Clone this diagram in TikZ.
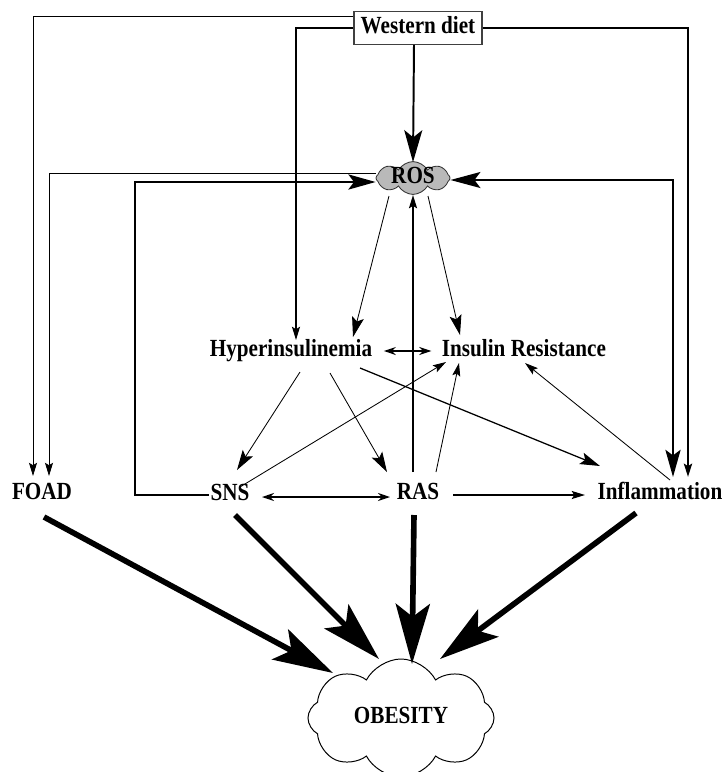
\documentclass[tikz,border=0pt]{standalone}
\usepackage{fontspec}
\setmainfont[FakeStretch=0.86]{Liberation Serif}
\usetikzlibrary{arrows.meta,shapes.symbols,calc}

\tikzset{
  lbl/.style={font=\fontsize{17.5}{19}\selectfont\bfseries, inner sep=1pt, text height=12pt, text depth=3.5pt},
  box/.style={lbl, draw=black!75, line width=0.8pt, minimum width=3.2cm, minimum height=0.82cm, inner sep=0pt},
  rosCloud/.style={cloud, cloud puffs=8, cloud puff arc=120, cloud ignores aspect, draw=black!80, fill=gray!55,
    line width=0.6pt, minimum width=1.85cm, minimum height=0.82cm, inner sep=0pt},
  obeCloud/.style={lbl, cloud, cloud puffs=8, cloud puff arc=125, cloud ignores aspect, draw, line width=0.7pt,
    minimum width=4.65cm, minimum height=2.95cm, inner sep=0pt},
  arrS/.style={line width=0.6pt, -{Stealth[length=0.33cm,width=0.2cm,inset=0.06cm]}},
  arrM/.style={line width=0.6pt, -{Stealth[length=0.5cm,width=0.3cm,inset=0.1cm]}},
  arrL/.style={line width=1.2pt, -{Stealth[length=0.68cm,width=0.38cm,inset=0.14cm]}},
  arrXL/.style={line width=1.4pt, -{Stealth[length=0.8cm,width=0.45cm,inset=0.18cm]}},
  arrBig/.style={line width=4pt, -{Stealth[length=1.5cm,width=0.85cm,inset=0.32cm]}},
  twoS/.style={line width=1pt, {Stealth[length=0.3cm,width=0.2cm]}-{Stealth[length=0.3cm,width=0.2cm]}}
}

\begin{document}
\begin{tikzpicture}[x=0.025cm,y=-0.025cm]
\useasboundingbox (0,0) rectangle (728,772);

\node[box] (wd) at (418,28) {Western diet};
\node[rosCloud, label={[lbl]center:ROS}] (ros) at (413,178) {};

\node[lbl] (hyp) at (291,351) {Hyperinsulinemia};
\node[lbl] (ir) at (524,351) {Insulin Resistance};

\node[lbl] (foad) at (42,494) {FOAD};
\node[lbl] (sns) at (230,495) {SNS};
\node[lbl] (ras) at (418,494) {RAS};
\node[lbl] (infl) at (660,494) {Inflammation};

\node[obeCloud] (obe) at (401,718) {OBESITY};

\coordinate (kSns) at (135,182);

\draw[arrS] ($(wd.north west)+(0,5)$) -| ($(foad)+(-9,-18)$);
\draw[arrS, line width=1.2pt] (wd.west) -| ($(hyp)+(5,-11)$);
\draw[arrS, line width=2pt] (wd.east) -| ($(infl)+(28,-17)$);
\draw[arrXL] ($(wd.south)+(-4,0)$) -- ($(ros.north)+(0,1)$);

\draw[arrS] ($(ros.west)+(0,-5)$) -| ($(foad)+(7,-18)$);
\draw[arrL] (sns.west) -| (kSns) -- (ros.west |- kSns);
\draw[line width=1.2pt, {Stealth[length=0.75cm,width=0.4cm,inset=0.15cm]}-{Stealth[length=0.68cm,width=0.38cm,inset=0.14cm]}]
  ($(ros.east)+(0,2)$) -| ($(infl)+(13,-17)$);

\draw[arrM] ($(ros)+(-24,18)$) -- ($(hyp)+(62,-14)$);
\draw[arrM] ($(ros)+(15,18)$) -- ($(ir)+(-64,-16)$);
\draw[arrS, line width=1.5pt] ($(ras)+(-5,-22)$) -- ($(ros)+(0,17)$);

\draw[twoS] ($(hyp.east)+(10,0)$) -- ($(ir.west)+(-9,0)$);
\draw[arrM] ($(hyp)+(9,21)$) -- ($(sns)+(7,-25)$);
\draw[arrM] ($(hyp)+(39,22)$) -- ($(ras)+(-31,-22)$);
\draw[arrM, line width=0.9pt] ($(hyp)+(69,17)$) -- ($(infl)+(-60,-28)$);
\draw[arrS] ($(sns)+(10,-8)$) -- ($(ir)+(-78,11)$);
\draw[arrS] ($(ras)+(18,-22)$) -- ($(ir)+(-65,12)$);
\draw[arrS] ($(infl)+(10,-14)$) -- ($(ir)+(1,12)$);

\draw[twoS, line width=1.2pt] ($(sns)+(32,2)$) -- ($(ras)+(-28,3)$);
\draw[arrS, line width=1.2pt] ($(ras)+(35,1)$) -- ($(infl)+(-75,1)$);

\draw[arrBig] ($(foad)+(2,23)$) -- ($(obe)+(-68,-45)$);
\draw[arrBig] ($(sns)+(5,20)$) -- ($(obe)+(-22,-59)$);
\draw[arrBig] ($(ras)+(-4,21)$) -- ($(obe)+(11,-54)$);
\draw[arrBig] ($(infl)+(-24,19)$) -- ($(obe)+(39,-59)$);
\end{tikzpicture}
\end{document}
